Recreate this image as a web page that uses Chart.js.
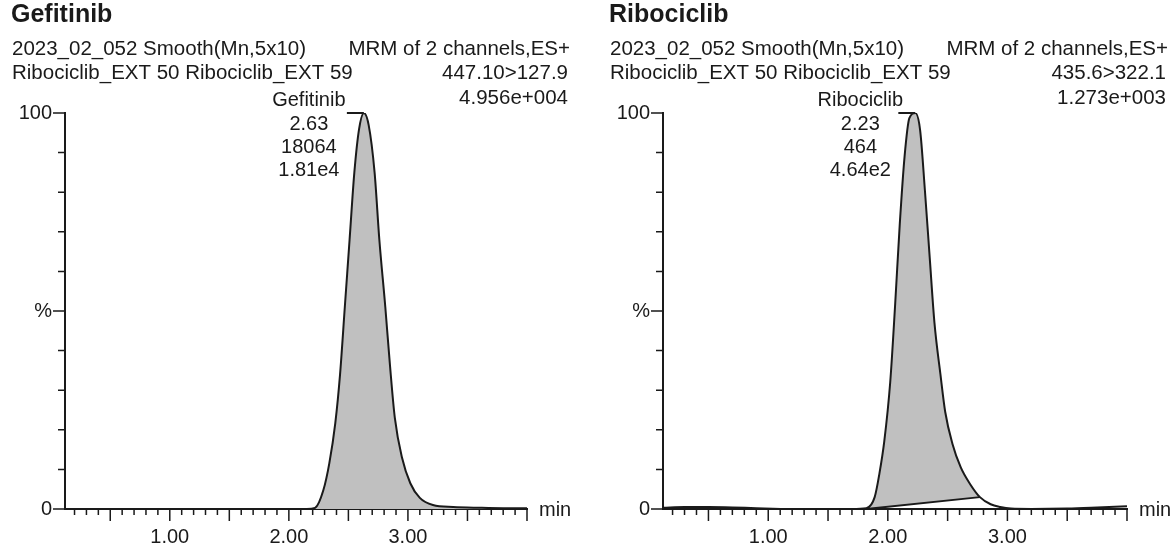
<!DOCTYPE html>
<html>
<head>
<meta charset="utf-8">
<script src="https://cdn.jsdelivr.net/npm/chart.js@4.4.1/dist/chart.umd.min.js"></script>
<style>
  body { margin: 0; background: #fff; width: 1173px; height: 546px; overflow: hidden; position: relative; }
  canvas { position: absolute; top: 0; }
  #chartLeft { left: 0; }
  #chartRight { left: 598px; }
</style>
</head>
<body>
<canvas id="chartLeft" width="586" height="546"></canvas>
<canvas id="chartRight" width="575" height="546"></canvas>
<script>
// Header text of the two panels
const panelTitles = ['Gefitinib', 'Ribociclib'];
const sampleLine = '2023_02_052 Smooth(Mn,5x10)';
const sampleName = 'Ribociclib_EXT 50 Ribociclib_EXT 59';
const scanLine = 'MRM of 2 channels,ES+';
const transitions = ['447.10>127.9', '435.6>322.1'];
const maxIntensity = ['4.956e+004', '1.273e+003'];

// Peak labels
const peakName = ['Gefitinib', 'Ribociclib'];
const peakRT = [2.63, 2.23];
const peakArea = ['18064', '464'];
const peakHeight = ['1.81e4', '4.64e2'];

// Axis ticks
const xTickLabels = { 1: '1.00', 2: '2.00', 3: '3.00' };
const yTickLabels = { 0: '0', 50: '%', 100: '100' };

// Gefitinib trace (time in min, % of max)
const gefTime = [0.12, 0.5, 1.0, 1.5, 2.0, 2.15, 2.22, 2.29, 2.34, 2.39, 2.43, 2.47, 2.51, 2.55, 2.59, 2.63,
  2.67, 2.72, 2.76, 2.81, 2.85, 2.89, 2.95, 3.02, 3.10, 3.21, 3.38, 3.6, 3.8, 4.0];
const gefPct = [0, 0, 0, 0, 0, 0, 0.3, 4.8, 11.6, 21.7, 34, 51, 68, 85, 96, 100,
  97, 85, 68, 51, 36, 23, 13, 6.5, 2.8, 1.0, 0.5, 0.3, 0.2, 0.2];

// Ribociclib trace
const riboTime = [0.12, 0.3, 0.5, 0.7, 0.9, 1.2, 1.5, 1.7, 1.82, 1.89, 1.93, 1.97, 2.02, 2.06, 2.10, 2.14, 2.18, 2.23,
  2.27, 2.31, 2.35, 2.39, 2.44, 2.48, 2.54, 2.61, 2.69, 2.77, 2.86, 2.94, 3.03, 3.2, 3.5, 3.7, 3.85, 4.0];
const riboPct = [0.3, 0.5, 0.5, 0.4, 0.2, 0, 0, 0, 0.2, 3, 9, 17, 32, 51, 72, 89, 98.7, 100,
  95.7, 80.5, 63.6, 47, 34, 24.5, 16.5, 10.5, 6.2, 3.0, 1.2, 0.5, 0.1, 0, 0.1, 0.3, 0.5, 0.7];

// Ribociclib integration baseline
const riboBaseTime = [1.82, 2.77];
const riboBasePct = [0, 3.0];

const FONT = "'Liberation Sans', Arial, sans-serif";
const INK = '#1a1a1a';
const FILL = '#c0c0c0';

function toPoints(xs, ys) {
  return xs.map((x, i) => ({ x: x, y: ys[i] }));
}

function headerPlugin(idx) {
  return {
    id: 'header' + idx,
    afterDraw(chart) {
      const ctx = chart.ctx;
      const xs = chart.scales.x, ys = chart.scales.y;
      ctx.save();
      ctx.fillStyle = INK;
      ctx.textBaseline = 'middle';

      ctx.font = 'bold 25px ' + FONT;
      ctx.textAlign = 'left';
      ctx.fillText(panelTitles[idx], 11, 15);

      ctx.font = '20.5px ' + FONT;
      ctx.fillText(sampleLine, 12, 49);
      ctx.fillText(sampleName, 12, 73);
      ctx.textAlign = 'right';
      ctx.fillText(scanLine, 570, 49);
      ctx.fillText(transitions[idx], 568, 73);
      ctx.fillText(maxIntensity[idx], 568, 98);

      // peak annotation
      const px = xs.getPixelForValue(peakRT[idx]);
      const py = ys.getPixelForValue(100);
      const cx = px - 55;
      ctx.font = '20px ' + FONT;
      ctx.textAlign = 'center';
      ctx.fillText(peakName[idx], cx, py - 13);
      ctx.fillText(peakRT[idx].toFixed(2), cx, py + 11);
      ctx.fillText(peakArea[idx], cx, py + 34);
      ctx.fillText(peakHeight[idx], cx, py + 57);
      ctx.strokeStyle = INK;
      ctx.lineWidth = 2;
      ctx.beginPath();
      ctx.moveTo(px - 17, py);
      ctx.lineTo(px, py);
      ctx.stroke();

      // axis unit
      ctx.textAlign = 'left';
      ctx.fillText('min', xs.right + 12, xs.top + 1);

      // tick marks
      ctx.lineWidth = 1.5;
      ctx.beginPath();
      xs.ticks.forEach(t => {
        const x = xs.getPixelForValue(t.value);
        const half = Math.abs(t.value * 2 - Math.round(t.value * 2)) < 1e-6;
        ctx.moveTo(x, xs.top);
        ctx.lineTo(x, xs.top + (half ? 12 : 6));
      });
      ys.ticks.forEach(t => {
        const y = ys.getPixelForValue(t.value);
        const big = yTickLabels[t.value] !== undefined;
        ctx.moveTo(ys.right, y);
        ctx.lineTo(ys.right - (big ? 12 : 7), y);
      });
      ctx.stroke();
      ctx.restore();
    }
  };
}

function makeOptions(rightPad) {
  return {
    responsive: false,
    animation: false,
    layout: { padding: { top: 113, right: rightPad, left: 0, bottom: 0 } },
    plugins: { legend: { display: false }, tooltip: { enabled: false } },
    elements: { point: { radius: 0 } },
    scales: {
      x: {
        type: 'linear', min: 0.12, max: 4.0,
        ticks: {
          stepSize: 0.1, includeBounds: false, autoSkip: false, maxRotation: 0, padding: 4,
          color: INK, font: { family: FONT, size: 20 },
          callback: v => {
            const r = Math.round(v);
            return Math.abs(v - r) < 1e-6 && xTickLabels[r] ? xTickLabels[r] : '';
          }
        },
        grid: { color: 'rgba(0,0,0,0)', drawOnChartArea: false, tickLength: 12 },
        border: { color: INK, width: 2 },
        afterFit: s => { s.height = 37; }
      },
      y: {
        min: 0, max: 100,
        ticks: {
          stepSize: 10, autoSkip: false, padding: 1,
          color: INK, font: { family: FONT, size: 20 },
          callback: v => yTickLabels[v] !== undefined ? yTickLabels[v] : ''
        },
        grid: { color: 'rgba(0,0,0,0)', drawOnChartArea: false, tickLength: 12 },
        border: { color: INK, width: 2 },
        afterFit: s => { s.width = 65; }
      }
    }
  };
}

new Chart(document.getElementById('chartLeft'), {
  type: 'line',
  data: {
    datasets: [{
      data: toPoints(gefTime, gefPct),
      borderColor: INK, borderWidth: 2,
      fill: 'origin', backgroundColor: FILL,
      cubicInterpolationMode: 'monotone'
    }]
  },
  options: makeOptions(59),
  plugins: [headerPlugin(0)]
});

const riboPeak = toPoints(riboTime, riboPct).filter(p => p.x >= riboBaseTime[0] && p.x <= riboBaseTime[1]);

new Chart(document.getElementById('chartRight'), {
  type: 'line',
  data: {
    datasets: [{
      data: toPoints(riboTime, riboPct),
      borderColor: INK, borderWidth: 2,
      fill: false,
      cubicInterpolationMode: 'monotone'
    }, {
      data: toPoints(riboBaseTime, riboBasePct),
      borderColor: INK, borderWidth: 2,
      fill: false
    }, {
      data: riboPeak,
      borderWidth: 0, borderColor: 'rgba(0,0,0,0)',
      fill: 1, backgroundColor: FILL,
      cubicInterpolationMode: 'monotone'
    }]
  },
  options: makeOptions(46),
  plugins: [headerPlugin(1)]
});
</script>
</body>
</html>
